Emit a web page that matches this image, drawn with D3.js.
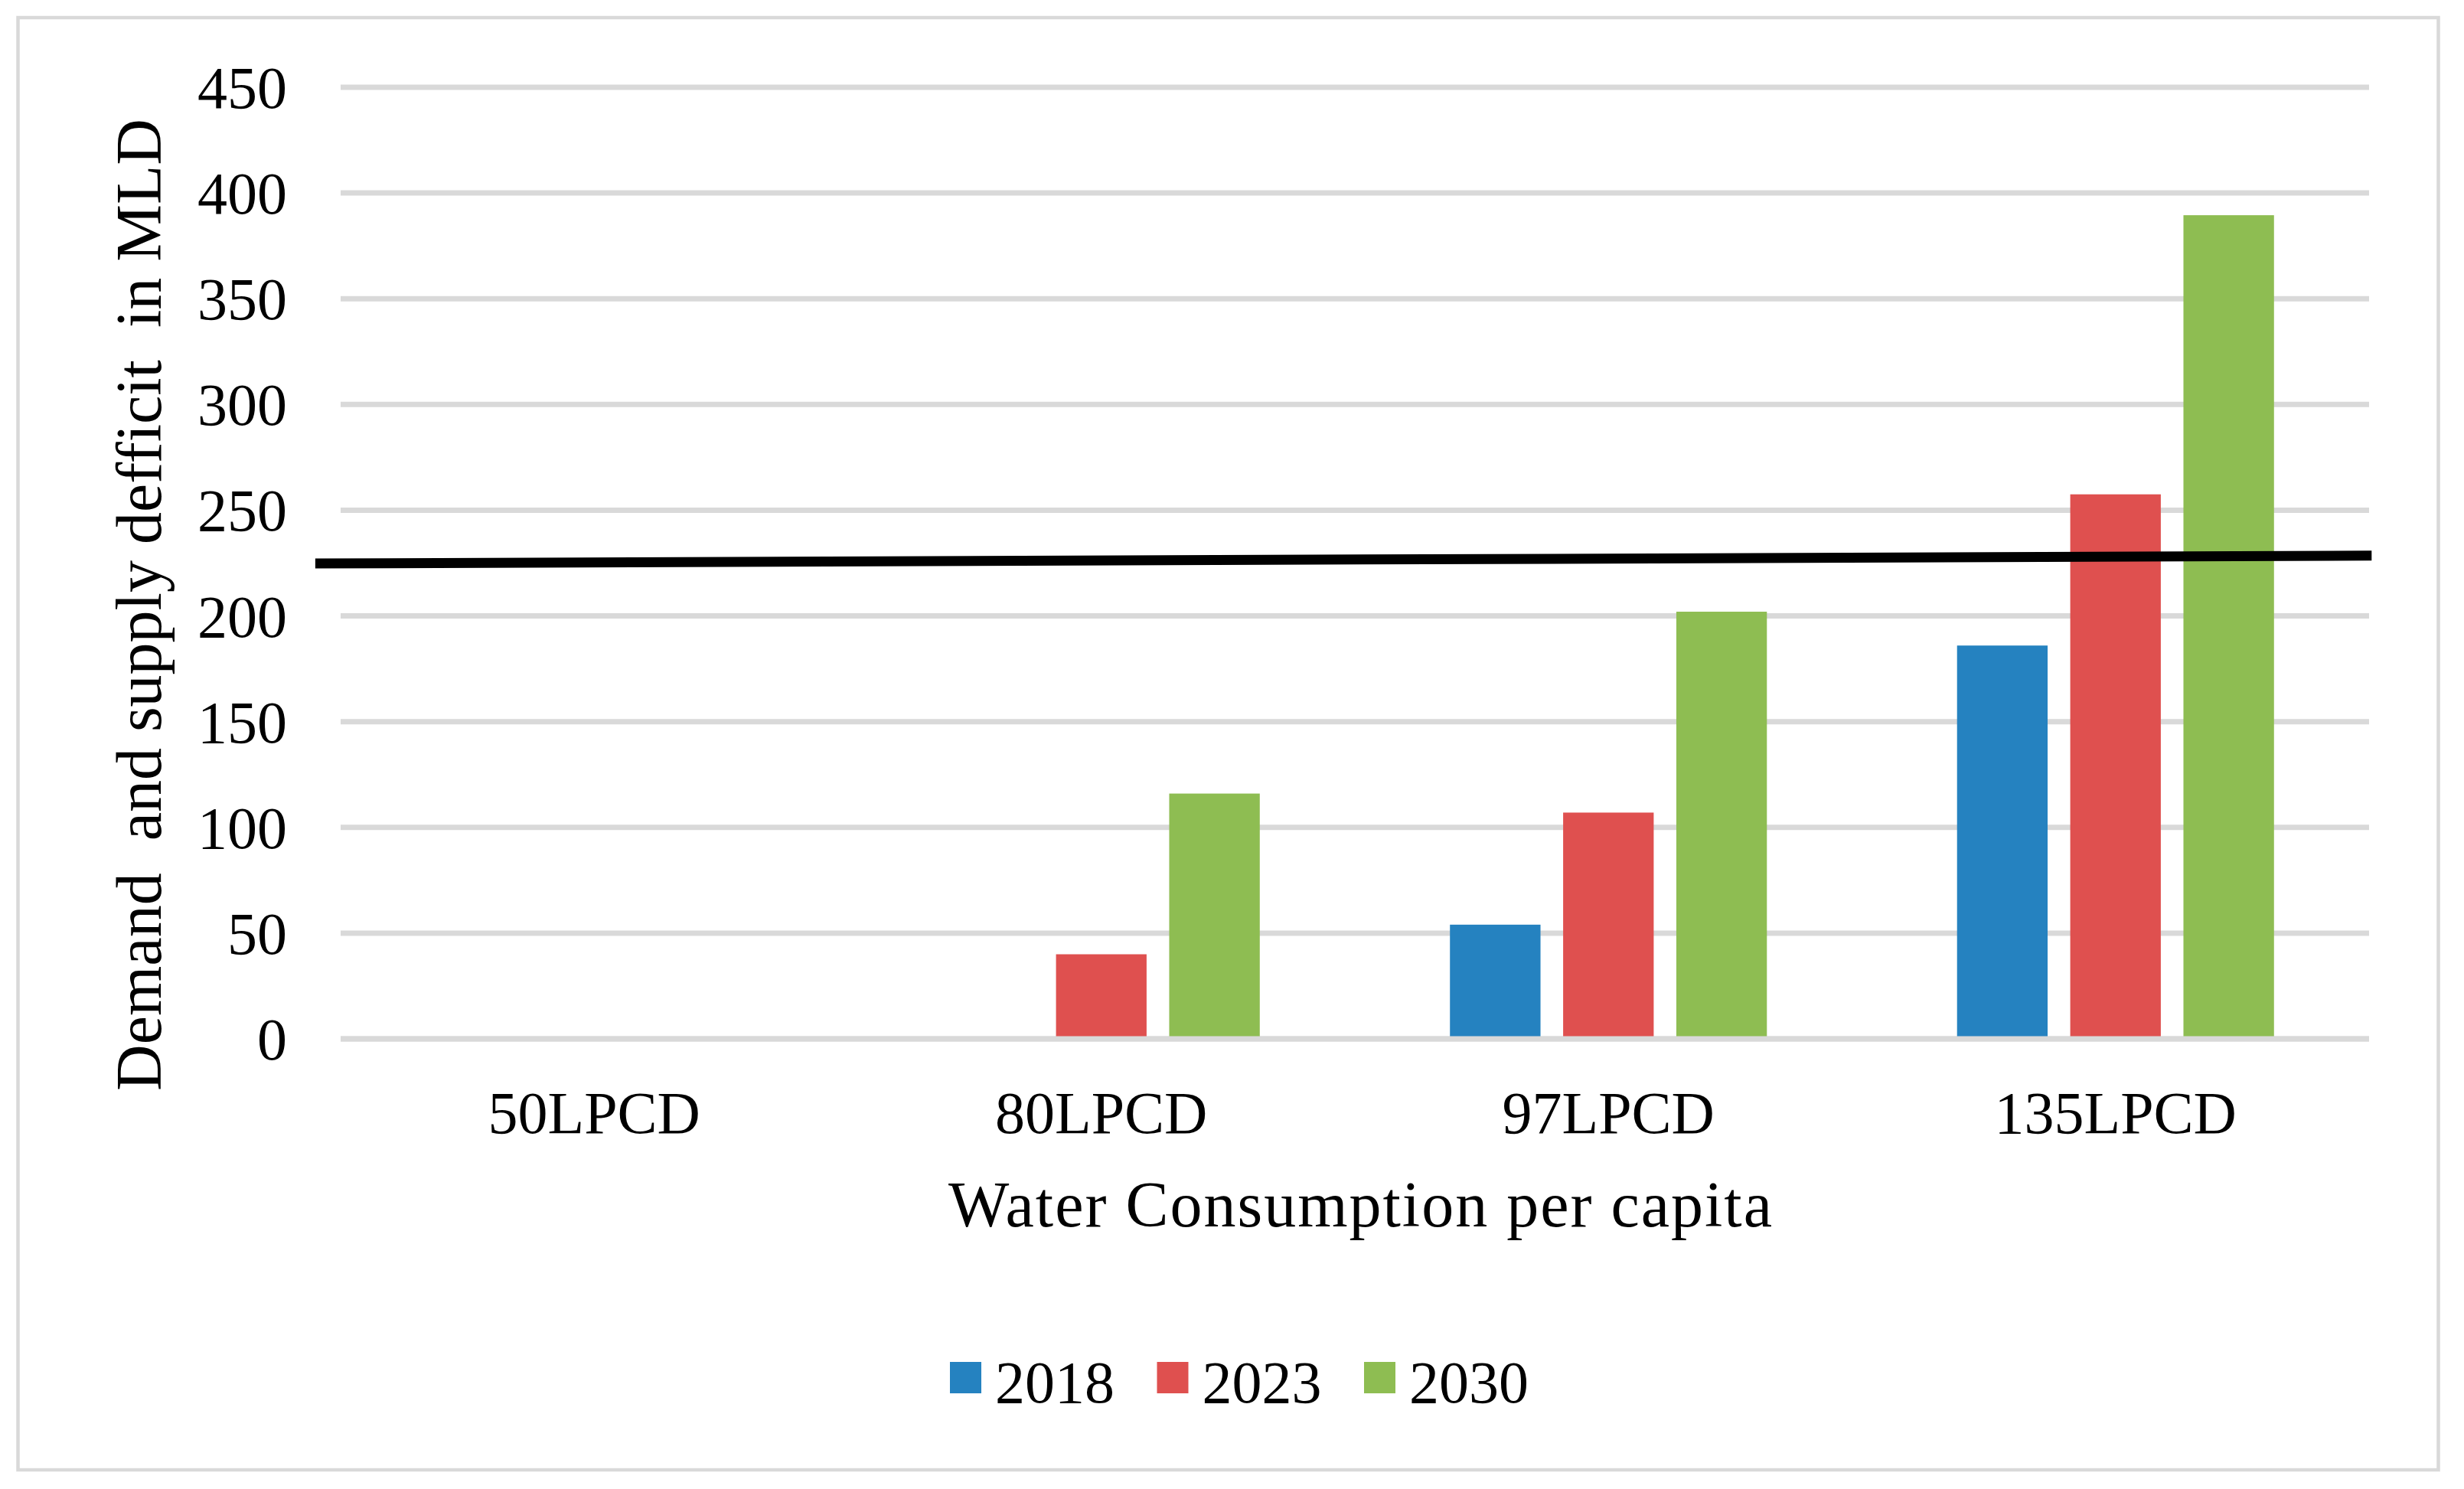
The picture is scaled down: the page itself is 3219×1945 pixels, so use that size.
<!DOCTYPE html>
<html>
<head>
<meta charset="utf-8">
<script src="https://cdn.jsdelivr.net/npm/d3@7"></script>
<style>
  body { margin: 0; background: #fff; }
  text { font-family: "Liberation Serif", "Times New Roman", serif; fill: #000; }
</style>
</head>
<body>
<div id="chart"></div>
<script>
// Settings
const SIZE = [3219, 1945]
const PLOT = {left: 445, right: 3095, top: 114, bottom: 1357}
const GRID_COLOR = "#d9d9d9"

// Data
const categories = ["50LPCD", "80LPCD", "97LPCD", "135LPCD"]
const seriesNames = ["2018", "2023", "2030"]
const seriesColors = ["#2582c0", "#df504f", "#8ebd52"]
const values2018 = [0, 0, 54, 186]
const values2023 = [0, 40, 107, 257.5]
const values2030 = [0, 116, 202, 389.5]
const yTicks = [0, 50, 100, 150, 200, 250, 300, 350, 400, 450]
// hand drawn supply line: position in category units, value in MLD
const supplyPos = [-0.05, 4.005]
const supplyVal = [224.8, 228.5]

const seriesValues = [values2018, values2023, values2030]

const svg = d3.select("#chart").append("svg")
  .attr("width", SIZE[0])
  .attr("height", SIZE[1])

// outer frame
svg.append("rect")
  .attr("x", 23.5).attr("y", 23)
  .attr("width", 3185.5 - 23.5).attr("height", 1920 - 23)
  .attr("fill", "#fff")
  .attr("stroke", GRID_COLOR)
  .attr("stroke-width", 4.5)

const x0 = d3.scaleBand()
  .domain(categories)
  .range([PLOT.left, PLOT.right])
  .padding(0)

const x1 = d3.scaleBand()
  .domain(seriesNames)
  .range([0, x0.bandwidth()])
  .paddingInner(0.2)
  .paddingOuter(0.84)

const xLin = d3.scaleLinear()
  .domain([0, categories.length])
  .range([PLOT.left, PLOT.right])

const y = d3.scaleLinear()
  .domain([0, 450])
  .range([PLOT.bottom, PLOT.top])

// gridlines
svg.append("g")
  .selectAll("line")
  .data(yTicks)
  .join("line")
    .attr("x1", PLOT.left)
    .attr("x2", PLOT.right)
    .attr("y1", d => y(d))
    .attr("y2", d => y(d))
    .attr("stroke", GRID_COLOR)
    .attr("stroke-width", 7)

// y tick labels
const yAxis = g => g
  .attr("transform", `translate(${PLOT.left},0)`)
  .call(d3.axisLeft(y).tickValues(yTicks).tickSize(0).tickPadding(70))
  .call(g => g.select(".domain").remove())
  .call(g => g.selectAll("text")
    .attr("font-family", "Liberation Serif, serif")
    .attr("font-size", 78)
    .attr("dy", "0.34em"))

svg.append("g").call(yAxis)

// bars
const groups = svg.append("g")
  .selectAll("g")
  .data(categories)
  .join("g")
    .attr("transform", d => `translate(${x0(d)},0)`)

groups.selectAll("rect")
  .data((c, i) => seriesNames.map((s, j) => ({s: s, v: seriesValues[j][i], color: seriesColors[j]})))
  .join("rect")
    .attr("x", d => x1(d.s))
    .attr("width", x1.bandwidth())
    .attr("y", d => y(d.v))
    .attr("height", d => y(0) - y(d.v))
    .attr("fill", d => d.color)

// baseline over bars
svg.append("line")
  .attr("x1", PLOT.left).attr("x2", PLOT.right)
  .attr("y1", y(0)).attr("y2", y(0))
  .attr("stroke", GRID_COLOR)
  .attr("stroke-width", 7)

// category labels
const xAxis = g => g
  .attr("transform", `translate(0,${PLOT.bottom})`)
  .call(d3.axisBottom(x0).tickSize(0).tickPadding(0))
  .call(g => g.select(".domain").remove())
  .call(g => g.selectAll("text")
    .attr("font-family", "Liberation Serif, serif")
    .attr("font-size", 78)
    .attr("dy", 0)
    .attr("y", 123))

svg.append("g").call(xAxis)

// supply line
const line = d3.line()
  .x((d, i) => xLin(supplyPos[i]))
  .y(d => y(d))

svg.append("path")
  .datum(supplyVal)
  .attr("d", line)
  .attr("fill", "none")
  .attr("stroke", "#000")
  .attr("stroke-width", 13)

// axis titles
svg.append("text")
  .attr("x", 1778)
  .attr("y", 1602)
  .attr("text-anchor", "middle")
  .attr("font-size", 84)
  .attr("letter-spacing", 2)
  .text("Water Consumption per capita")

svg.append("text")
  .attr("transform", "translate(210,790) rotate(-90)")
  .attr("text-anchor", "middle")
  .attr("font-size", 84)
  .style("white-space", "pre")
  .text("Demand  and supply defficit  in MLD")

// legend
const legend = svg.append("g")
  .attr("transform", "translate(1241,0)")

const items = legend.selectAll("g")
  .data(seriesNames)
  .join("g")
    .attr("transform", (d, i) => `translate(${i * 270.5},0)`)

items.append("rect")
  .attr("x", 0).attr("y", 1779)
  .attr("width", 41).attr("height", 41)
  .attr("fill", (d, i) => seriesColors[i])

items.append("text")
  .attr("x", 59)
  .attr("y", 1832)
  .attr("font-size", 78)
  .text(d => d)
</script>
</body>
</html>
